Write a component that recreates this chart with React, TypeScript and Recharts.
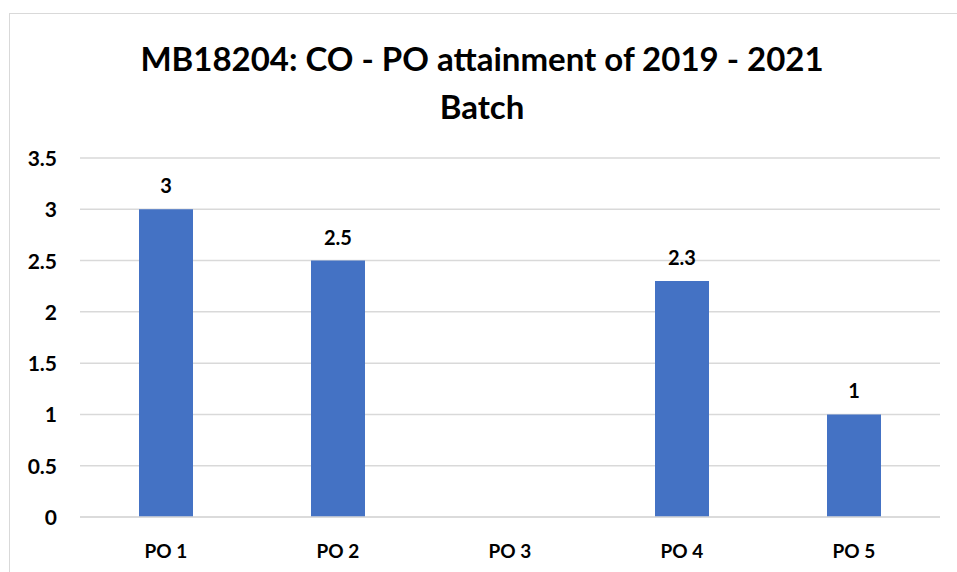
import React from 'react';
import { BarChart, Bar, XAxis, YAxis, CartesianGrid, LabelList } from 'recharts';

const categories = ['PO 1', 'PO 2', 'PO 3', 'PO 4', 'PO 5'];
const values: (number | null)[] = [3, 2.5, null, 2.3, 1];
const yTicks = [0, 0.5, 1, 1.5, 2, 2.5, 3, 3.5];
const titleLines = ['MB18204: CO - PO attainment of 2019 - 2021', 'Batch'];

const data = categories.map((c, i) => ({ name: c, value: values[i] }));

const FONT = 'Lato, "Open Sans", sans-serif';

const XTick = (props: any) => {
  const { x, y, payload } = props;
  return (
    <text x={x} y={y + 39} textAnchor="middle" fill="#000" fontSize={19} fontWeight={700} fontFamily={FONT}>{payload.value}</text>
  );
};

const YTick = (props: any) => {
  const { y, payload } = props;
  return (
    <text x={57} y={y + 8} textAnchor="end" fill="#000" fontSize={21} fontWeight={700} fontFamily={FONT}>{payload.value}</text>
  );
};

export default function App() {
  return (
    <div style={{ position: 'absolute', left: 0, top: 0, width: 957, height: 572, overflow: 'hidden', background: '#fff', fontFamily: FONT }}>
      <div style={{ position: 'absolute', left: 9, top: 13, width: 1000, height: 700, border: '1px solid #d9d9d9', boxSizing: 'border-box' }} />
      {titleLines.map((t, i) => (
        <div key={i} style={{ position: 'absolute', left: 0, width: 964, top: 37 + i * 48, textAlign: 'center', fontSize: 33, fontWeight: 700, color: '#000', lineHeight: '42px', whiteSpace: 'nowrap' }}>{t}</div>
      ))}
      <div style={{ position: 'absolute', left: 0, top: 0 }}>
        <BarChart width={957} height={572} data={data} margin={{ top: 158, right: 17, bottom: 0, left: 0 }}>
          <CartesianGrid vertical={false} stroke="#d9d9d9" strokeWidth={1.5} />
          <XAxis dataKey="name" height={55} axisLine={{ stroke: '#d9d9d9', strokeWidth: 1.5 }} tickLine={false} tickSize={0} tick={<XTick />} />
          <YAxis width={80} domain={[0, 3.5]} ticks={yTicks} axisLine={false} tickLine={false} tickSize={0} tick={<YTick />} />
          <Bar dataKey="value" fill="#4472C4" barSize={54} isAnimationActive={false}>
            <LabelList dataKey="value" position="top" offset={16} fill="#000" fontSize={20} fontWeight={700} fontFamily={FONT} />
          </Bar>
        </BarChart>
      </div>
    </div>
  );
}
